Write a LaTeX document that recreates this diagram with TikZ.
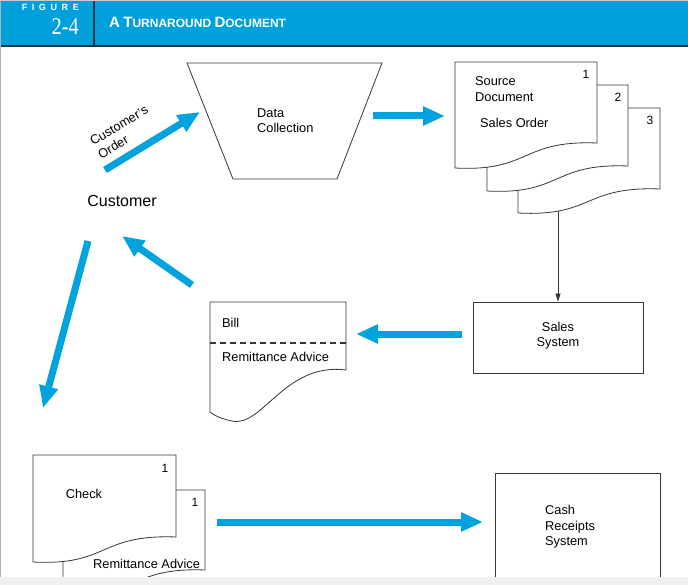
\documentclass[tikz,border=0pt]{standalone}
\usepackage{fontspec}
\setmainfont{Liberation Sans}
\newfontfamily\serifnum[FakeStretch=0.85]{Liberation Serif}
\usetikzlibrary{arrows.meta}
\definecolor{hdrblue}{RGB}{0,160,219}
\definecolor{arrblue}{RGB}{0,163,221}
\definecolor{hdrdark}{RGB}{22,52,70}
\definecolor{inkgray}{RGB}{55,55,55}
\newcommand\hbig[1]{{\fontsize{15}{15}\selectfont #1}}
\newcommand\hsmall[1]{{\fontsize{12}{12}\selectfont #1}}
\newcommand\fgap{\hspace{4.6pt}}
\begin{document}
\begin{tikzpicture}[x=1pt,y=-1pt,
  txt/.style={font=\fontsize{12.8}{15.5}\selectfont, inner sep=0pt, text=black},
  numtxt/.style={font=\fontsize{12}{12}\selectfont, inner sep=0pt, text=black},
  docline/.style={draw=inkgray, line width=0.8pt, fill=white},
  bigarrow/.style={draw=arrblue, line width=7pt, -{Triangle[length=22pt,width=18pt]}},
  thinarrow/.style={draw=inkgray, line width=0.8pt, -{Triangle[length=8pt,width=5pt]}}
]
\useasboundingbox (0,0) rectangle (688,585);
\fill[white] (0,0) rectangle (688,585);
% header
\fill[hdrblue] (0,0) rectangle (688,46);
\fill[hdrdark] (0,45.5) rectangle (688,47.5);
\fill[hdrdark] (92.5,0) rectangle (94.7,46);
\node[anchor=base east, text=white, inner sep=0pt, font=\fontsize{9}{9}\selectfont\bfseries] (figlbl) at (79,10.5) {F\fgap I\fgap G\fgap U\fgap R\fgap E};
\node[anchor=base east, text=white, inner sep=0pt, font=\serifnum\fontsize{24}{24}\selectfont] (fignum) at (79,34.5) {2-4};
\node[anchor=base west, text=white, inner sep=0pt, font=\fontsize{12}{12}\selectfont\bfseries] (title) at (109,27.5) {\hbig{A} \hbig{T}\hsmall{URNAROUND} \hbig{D}\hsmall{OCUMENT}};

% Data collection (manual input trapezoid)
\draw[docline] (187,63) -- (382,63) -- (337,179) -- (233,179) -- cycle;
\node[txt, anchor=west, align=left] (datacol) at (257,120.5) {Data\\Collection};

% Sales order stack
\draw[docline] (518,108) -- (660,108) -- (660,189) .. controls (583.3,186) and (593.3,217) .. (518,213) -- cycle;
\draw[docline] (487,85) -- (628,85) -- (628,166) .. controls (551.9,163) and (561.7,195) .. (487,191) -- cycle;
\draw[docline] (455,62) -- (597,62) -- (597,143) .. controls (520.3,140) and (530.3,172) .. (455,168) -- cycle;
\node[numtxt] (n1) at (586,74) {1};
\node[numtxt] (n2) at (618,97) {2};
\node[numtxt] (n3) at (650,120) {3};
\node[txt, anchor=west, align=left] (srcdoc) at (475,89) {Source\\Document};
\node[txt, anchor=west] (salesorder) at (480,123) {Sales Order};
\coordinate (d3b) at (558,211);

% Sales system
\node[draw=inkgray, line width=0.8pt, minimum width=170pt, minimum height=71pt, inner sep=0pt] (salessys) at (558,337.5) {};
\node[txt, align=center] (salestxt) at (558,335.5) {Sales\\System};
\draw[thinarrow] (d3b) -- (salessys.north);

% Bill / remittance advice
\draw[docline] (210,302) -- (346,302) -- (346,370) .. controls (285,362) and (262,428) .. (232,421) .. controls (222,419) and (215,416) .. (210,412) -- cycle;
\draw[inkgray, line width=1.2pt, dash pattern=on 6pt off 4pt] (210,343) -- (346,343);
\node[txt, anchor=west] (bill) at (222,323) {Bill};
\node[txt, anchor=west] (remit1) at (222,357) {Remittance Advice};

% Customer
\node[inner sep=0pt, font=\fontsize{16}{16}\selectfont] (customer) at (122,201) {Customer};
\node[txt, rotate=31, align=left] (custorder) at (123,132) {Customer's\\Order};

% Check and remittance advice
\draw[docline] (63,490) -- (205,490) -- (205,570) .. controls (128.3,567) and (138.3,599) .. (63,595) -- cycle;
\draw[docline] (33,455) -- (176,455) -- (176,537) .. controls (98.8,534) and (108.8,566) .. (33,562) -- cycle;
\node[numtxt] (c1) at (165,468) {1};
\node[numtxt] (r1) at (195,502) {1};
\node[txt] (check) at (84,494) {Check};
\node[txt, anchor=west] (remit2) at (93,564) {Remittance Advice};

% Cash receipts system
\draw[inkgray, line width=0.8pt] (495,590) -- (495,473) -- (660,473) -- (660,590);
\node[txt, anchor=west, align=left] (cashtxt) at (545,527) {Cash\\Receipts\\System};

% blue arrows (named ends)
\coordinate (a1s) at (105,170); \coordinate (a1e) at (200,112);
\coordinate (a2s) at (373,116); \coordinate (a2e) at (445,116);
\coordinate (a3s) at (462,334); \coordinate (a3e) at (356,334);
\coordinate (a4s) at (192,285); \coordinate (a4e) at (122,236);
\coordinate (a5s) at (88,241);  \coordinate (a5e) at (43,408);
\coordinate (a6s) at (217,522); \coordinate (a6e) at (483,522);
\draw[bigarrow] (a1s) -- (a1e);
\draw[bigarrow] (a2s) -- (a2e);
\draw[bigarrow] (a3s) -- (a3e);
\draw[bigarrow] (a4s) -- (a4e);
\draw[bigarrow] (a5s) -- (a5e);
\draw[bigarrow] (a6s) -- (a6e);

% frame and bottom strip
\fill[gray!12] (0,577) rectangle (688,585);
\draw[gray!60, line width=1.2pt] (0.8,0) -- (0.8,577);
\draw[gray!40, line width=0.8pt] (0,0.4) -- (688,0.4);
\end{tikzpicture}
\end{document}
